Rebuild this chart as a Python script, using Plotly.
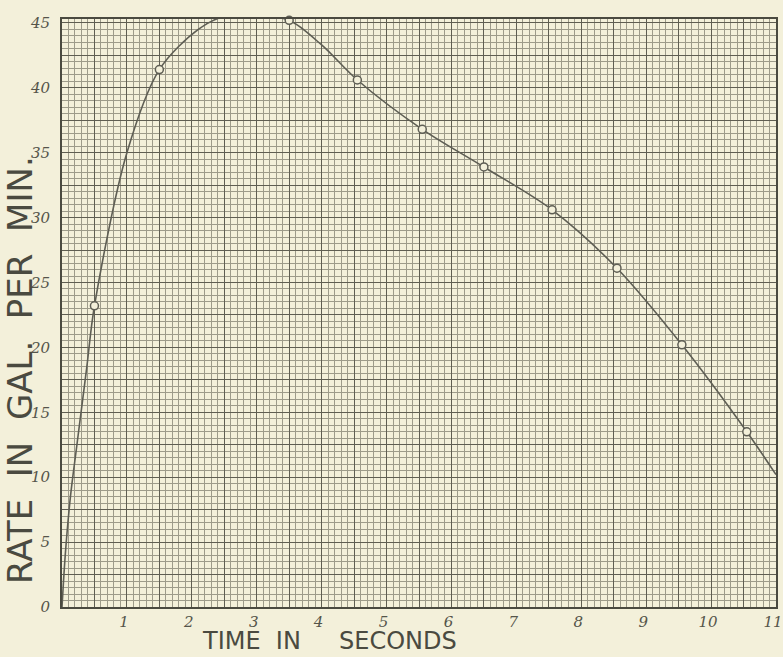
import plotly.graph_objects as go

# ---- data ----
curve_t = [0, 0.05, 0.13, 0.23, 0.38, 0.5, 1.0, 1.5, 2.1, 2.5, 3.0, 3.5,
           4.0, 4.55, 5.55, 6.5, 7.55, 8.55, 9.55, 10.55, 11.0]
curve_rate = [0, 4, 8.5, 12.5, 18.4, 23.2, 35.0, 41.4, 44.5, 45.5, 45.6, 45.2,
              43.3, 40.6, 36.8, 33.9, 30.6, 26.1, 20.2, 13.5, 10.2]

obs_t = [0.5, 1.5, 2.5, 3.5, 4.55, 5.55, 6.5, 7.55, 8.55, 9.55, 10.55]
obs_rate = [23.2, 41.4, 45.5, 45.2, 40.6, 36.8, 33.9, 30.6, 26.1, 20.2, 13.5]

x_tick_values = [1, 2, 3, 4, 5, 6, 7, 8, 9, 10, 11]
x_tick_labels = ["1", "2", "3", "4", "5", "6", "7", "8", "9", "10", "11"]
y_tick_values = [0, 5, 10, 15, 20, 25, 30, 35, 40, 45]
y_tick_labels = ["0", "5", "10", "15", "20", "25", "30", "35", "40", "45"]

NB = "\u00a0"
x_title = "TIME" + NB * 2 + "IN" + NB * 5 + "SECONDS"
y_title = "RATE" + NB * 2 + "IN" + NB * 2 + "GAL." + NB * 2 + "PER" + NB * 2 + "MIN."

PAPER = "#f3f0da"
INK = "#4a4a40"

# major grid every half second / 2.5 units, labels only on the given ticks
x_major = [i * 0.5 for i in range(0, 23)]
x_major_text = [x_tick_labels[x_tick_values.index(v)] if v in x_tick_values else "" for v in x_major]
y_major = [i * 2.5 for i in range(0, 19)]
y_major_text = [y_tick_labels[y_tick_values.index(v)] if v in y_tick_values else "" for v in y_major]

fig = go.Figure()
fig.add_trace(go.Scatter(
    x=curve_t, y=curve_rate, mode="lines",
    line=dict(color="#5e5e54", width=1.6, shape="spline", smoothing=0.9),
    hoverinfo="skip", showlegend=False,
))
fig.add_trace(go.Scatter(
    x=obs_t, y=obs_rate, mode="markers", cliponaxis=False,
    marker=dict(symbol="circle", size=8, color=PAPER, line=dict(color="#5e5e54", width=1.5)),
    showlegend=False,
))

tickfont = dict(family="DejaVu Serif", size=15, color="#55554a", style="italic")

fig.update_xaxes(
    range=[0, 11], tickmode="array", tickvals=x_major, ticktext=x_major_text,
    showgrid=True, gridcolor="#5f5e52", gridwidth=1,
    minor=dict(tickmode="linear", tick0=0, dtick=0.1, showgrid=True, gridcolor="#9d9b8a", gridwidth=1),
    showline=True, mirror=True, linecolor=INK, linewidth=2, automargin=False,
    ticks="", ticklabelstandoff=0, ticklabelshift=-3, ticklabeloverflow="allow",
    tickfont=tickfont, zeroline=False,
)
fig.update_yaxes(
    range=[0, 45.3], tickmode="array", tickvals=y_major, ticktext=y_major_text,
    showgrid=True, gridcolor="#5f5e52", gridwidth=1,
    minor=dict(tickmode="linear", tick0=0, dtick=0.5, showgrid=True, gridcolor="#9d9b8a", gridwidth=1),
    showline=True, mirror=True, linecolor=INK, linewidth=2, automargin=False,
    ticks="", ticklabelstandoff=7, ticklabeloverflow="allow", tickfont=tickfont, zeroline=False,
)

fig.add_annotation(
    text=x_title, xref="x", yref="paper", x=4.12, y=-0.058, xanchor="center", yanchor="middle",
    showarrow=False, font=dict(family="DejaVu Sans", size=24, color=INK),
)
fig.add_annotation(
    text=y_title, xref="paper", yref="paper", x=-0.059, y=0.403, xanchor="center", yanchor="middle",
    textangle=-90, showarrow=False, font=dict(family="DejaVu Sans", size=34, color=INK),
)

fig.update_layout(
    width=783, height=657,
    margin=dict(l=62, r=7, t=19, b=50),
    paper_bgcolor=PAPER, plot_bgcolor=PAPER,
    showlegend=False,
)

fig.write_html(
    "out.html",
    config={"displayModeBar": False},
    post_script="document.body.style.margin='0';document.body.style.background='%s';" % PAPER,
)
